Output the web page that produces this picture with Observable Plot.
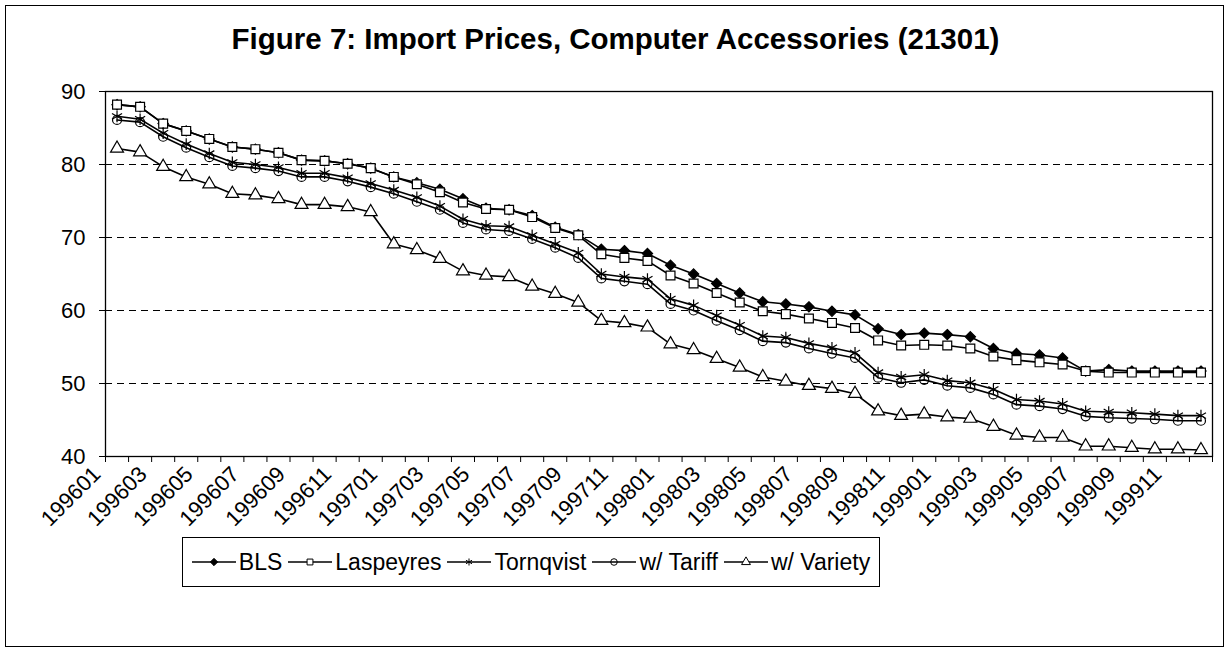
<!DOCTYPE html>
<html><head><meta charset="utf-8">
<script src="https://cdn.jsdelivr.net/npm/d3@7"></script>
<script src="https://cdn.jsdelivr.net/npm/@observablehq/plot@0.6"></script>
<style>
body{margin:0;background:#fff;font-family:"Liberation Sans",Arial,sans-serif;}
#wrap{position:relative;width:1231px;height:652px;overflow:hidden;background:#fff}
#border{position:absolute;left:5px;top:5px;width:1219px;height:642px;border:1px solid #000;box-sizing:border-box}
#title{position:absolute;left:0;width:1231px;top:22px;text-align:center;font-weight:bold;font-size:29.5px;color:#000}
#chart{position:absolute;left:0;top:0}
#legend{position:absolute;left:182px;top:537px;width:698px;height:50px;box-sizing:border-box;border:1px solid #000;display:flex;align-items:center;justify-content:center;gap:6px;font-size:23px;background:#fff;white-space:nowrap}
#legend .item{display:flex;align-items:center;gap:3px}
#legend svg{display:block}
</style></head>
<body>
<div id="wrap">
  <div id="border"></div>
  <div id="chart"></div>
  <div id="title">Figure 7: Import Prices, Computer Accessories (21301)</div>
  <div id="legend"></div>
</div>
<script>
const months = ["199601","199602","199603","199604","199605","199606","199607","199608","199609","199610","199611","199612",
"199701","199702","199703","199704","199705","199706","199707","199708","199709","199710","199711","199712",
"199801","199802","199803","199804","199805","199806","199807","199808","199809","199810","199811","199812",
"199901","199902","199903","199904","199905","199906","199907","199908","199909","199910","199911","199912"];

const bls = [88.2,87.9,85.6,84.6,83.5,82.4,82.1,81.6,80.6,80.5,80.1,79.5,78.3,77.5,76.6,75.3,74.0,73.8,73.0,71.4,70.4,68.4,68.2,67.8,
66.2,65.0,63.7,62.4,61.2,60.9,60.5,59.9,59.4,57.5,56.7,56.9,56.7,56.4,54.8,54.1,53.9,53.5,51.7,51.9,51.7,51.7,51.7,51.7];
const laspeyres = [88.2,87.9,85.6,84.6,83.5,82.4,82.1,81.6,80.6,80.5,80.1,79.5,78.3,77.3,76.2,74.8,73.9,73.8,72.8,71.3,70.3,67.7,67.2,66.8,
64.8,63.7,62.4,61.1,59.9,59.5,58.9,58.3,57.6,55.9,55.2,55.3,55.2,54.8,53.7,53.2,52.9,52.6,51.7,51.5,51.5,51.5,51.5,51.5];
const tornqvist = [86.6,86.2,84.3,82.8,81.5,80.3,80.0,79.6,78.8,78.8,78.2,77.4,76.5,75.5,74.3,72.5,71.6,71.5,70.3,69.1,67.9,65.0,64.6,64.3,
61.6,60.7,59.3,58.0,56.5,56.3,55.5,54.9,54.2,51.5,50.9,51.2,50.4,50.1,49.2,47.8,47.6,47.2,46.2,46.1,46.0,45.8,45.6,45.6];
const tariff = [86.1,85.8,83.8,82.3,81.0,79.8,79.5,79.1,78.3,78.3,77.7,76.9,76.0,74.9,73.8,72.0,71.1,70.9,69.8,68.6,67.2,64.4,64.0,63.6,
60.9,60.0,58.6,57.3,55.8,55.6,54.8,54.1,53.5,50.8,50.1,50.5,49.7,49.4,48.5,47.1,46.9,46.5,45.5,45.3,45.2,45.1,44.9,44.9];
const variety = [82.2,81.7,79.7,78.3,77.3,76.0,75.8,75.3,74.5,74.5,74.2,73.5,69.1,68.3,67.1,65.4,64.8,64.6,63.3,62.3,61.1,58.6,58.3,57.7,
55.4,54.6,53.4,52.2,50.9,50.3,49.7,49.3,48.6,46.2,45.6,45.8,45.4,45.2,44.1,42.9,42.6,42.6,41.4,41.4,41.2,41.0,41.0,40.9];

const seriesNames = ["BLS","Laspeyres","Tornqvist","w/ Tariff","w/ Variety"];
const seriesValues = [bls, laspeyres, tornqvist, tariff, variety];
const yTicks = [40,50,60,70,80,90];
const gridValues = [50,60,70,80];

const markers = {
  "BLS": {symbol:"diamond2", fill:"black", stroke:"black", r:4.6},
  "Laspeyres": {symbol:"square", fill:"white", stroke:"black", r:5},
  "Tornqvist": {symbol:"asterisk", fill:"none", stroke:"black", r:5.5},
  "w/ Tariff": {symbol:"circle", fill:"none", stroke:"black", r:4.5},
  "w/ Variety": {symbol:"triangle", fill:"white", stroke:"black", r:4.8}
};

const idx = months.map((m, i) => i);
const boundaries = d3.range(-0.5, months.length, 1);
const labelIdx = idx.filter(i => i % 2 === 0);

const marks = [
  Plot.ruleY(gridValues, {stroke:"black", strokeWidth:1, strokeDasharray:"7,5"}),
  Plot.frame({stroke:"black", strokeWidth:1.3}),
  Plot.axisY({ticks: yTicks, label: null, tickSize: 6, tickPadding: 14, fontSize: 22, fill:"black", tickFormat: d => String(d)}),
  Plot.axisX({ticks: boundaries, label: null, tickSize: 6, tickFormat: () => ""}),
  Plot.axisX({ticks: labelIdx, label: null, tickSize: 0, tickPadding: 14, tickRotate: -45, textAnchor: "end", fontSize: 22, fill:"black", dx: -20, tickFormat: i => months[i]})
];
seriesNames.forEach((name, k) => {
  const data = seriesValues[k].map((v, i) => ({i, v}));
  const m = markers[name];
  marks.push(Plot.line(data, {x:"i", y:"v", stroke:"black", strokeWidth:1.6}));
  marks.push(Plot.dot(data, {x:"i", y:"v", symbol: () => m.symbol, r: m.r, fill: m.fill, stroke: m.stroke, strokeWidth: 1.2}));
});

const chart = Plot.plot({
  width: 1231, height: 540,
  marginLeft: 105, marginRight: 19, marginTop: 91, marginBottom: 84,
  x: {type:"linear", domain:[-0.5, months.length - 0.5], axis: null},
  y: {domain:[40, 90], axis: null},
  symbol: {type:"identity"},
  style: {fontFamily:"'Liberation Sans', Arial, sans-serif", color:"black", background:"transparent", overflow:"visible"},
  marks
});
document.getElementById("chart").appendChild(chart);

// legend
const legend = document.getElementById("legend");
const symMap = {diamond2: d3.symbolDiamond2, square: d3.symbolSquare, asterisk: d3.symbolAsterisk, circle: d3.symbolCircle, triangle: d3.symbolTriangle};
seriesNames.forEach(name => {
  const m = markers[name];
  const item = document.createElement("div");
  item.className = "item";
  const svg = d3.create("svg").attr("width", 44).attr("height", 16);
  svg.append("line").attr("x1", 0).attr("x2", 44).attr("y1", 8).attr("y2", 8).attr("stroke", "black").attr("stroke-width", 1.6);
  svg.append("path").attr("transform", "translate(22,8)")
    .attr("d", d3.symbol(symMap[m.symbol], Math.PI * 3.3 * 3.3)())
    .attr("fill", m.fill).attr("stroke", "black").attr("stroke-width", 1);
  item.appendChild(svg.node());
  const t = document.createElement("span");
  t.textContent = name;
  item.appendChild(t);
  legend.appendChild(item);
});
</script>
</body></html>
